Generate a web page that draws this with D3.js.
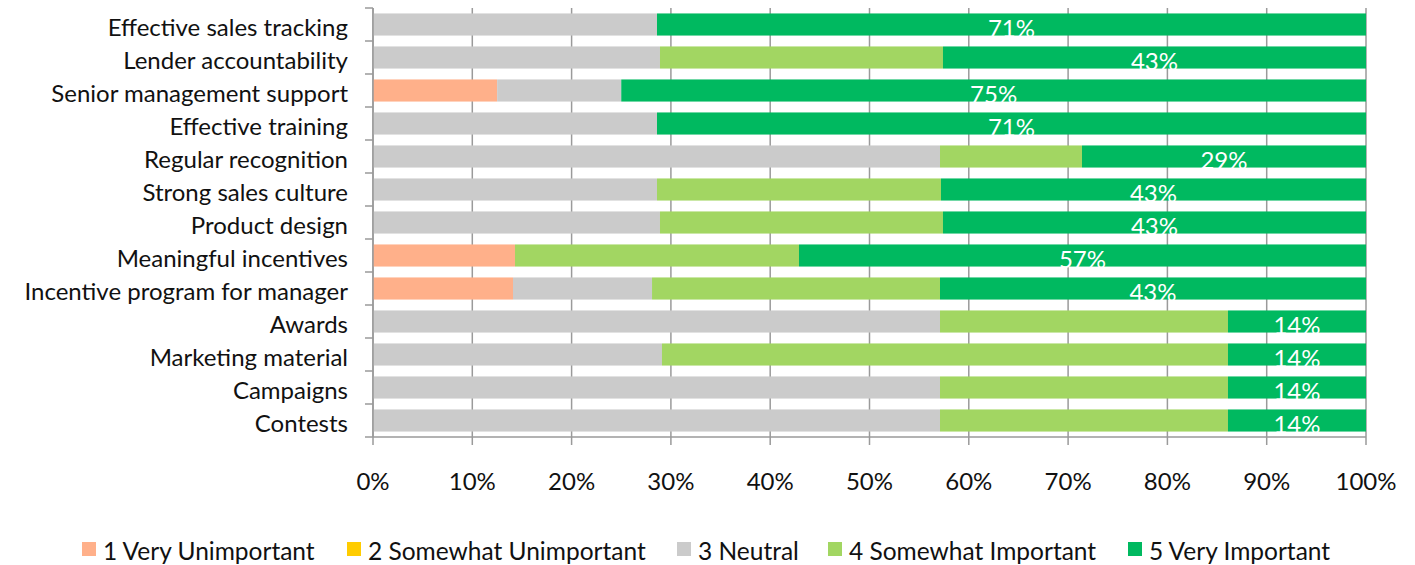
<!DOCTYPE html>
<html>
<head>
<meta charset="utf-8">
<script src="https://cdn.jsdelivr.net/npm/d3@7"></script>
<style>
  html, body { margin: 0; padding: 0; background: #fff; }
  svg { display: block; font-family: Lato, "Open Sans", sans-serif; }
</style>
</head>
<body>
<svg id="chart" width="1415" height="565"></svg>
<script>
// Survey factors, top to bottom
const categories = [
  "Effective sales tracking",
  "Lender accountability",
  "Senior management support",
  "Effective training",
  "Regular recognition",
  "Strong sales culture",
  "Product design",
  "Meaningful incentives",
  "Incentive program for manager",
  "Awards",
  "Marketing material",
  "Campaigns",
  "Contests"
];

// Share of responses (%) per rating, in category order
const veryUnimportant     = [0, 0, 12.5, 0, 0, 0, 0, 14.3, 14.1, 0, 0, 0, 0];
const somewhatUnimportant = [0, 0, 0, 0, 0, 0, 0, 0, 0, 0, 0, 0, 0];
const neutral             = [28.6, 28.9, 12.5, 28.6, 57.1, 28.6, 28.9, 0, 14.0, 57.1, 29.1, 57.1, 57.1];
const somewhatImportant   = [0, 28.5, 0, 0, 14.3, 28.6, 28.5, 28.6, 29.0, 29.0, 57.0, 29.0, 29.0];
const veryImportant       = [71.4, 42.6, 75.0, 71.4, 28.6, 42.8, 42.6, 57.1, 42.9, 13.9, 13.9, 13.9, 13.9];

const seriesNames = ["1 Very Unimportant", "2 Somewhat Unimportant", "3 Neutral", "4 Somewhat Important", "5 Very Important"];
const seriesValues = [veryUnimportant, somewhatUnimportant, neutral, somewhatImportant, veryImportant];
const seriesColors = ["#FFB08A", "#FFCC00", "#CBCBCB", "#A2D662", "#00B960"];

const xTicks = [0, 10, 20, 30, 40, 50, 60, 70, 80, 90, 100];

const svg = d3.select("#chart");
const margin = { left: 373, right: 49, top: 8, bottom: 128 };
const width = 1415 - margin.left - margin.right;
const height = 565 - margin.top - margin.bottom;

const g = svg.append("g").attr("transform", `translate(${margin.left},${margin.top})`);

const x = d3.scaleLinear().domain([0, 100]).range([0, width]);
const y = d3.scaleBand().domain(categories).range([0, height]).paddingInner(0.33).paddingOuter(0.165);

// Build stacked table
const rows = categories.map((c, i) => {
  const r = { category: c };
  seriesNames.forEach((s, k) => { r[s] = seriesValues[k][i]; });
  return r;
});
const stacked = d3.stack().keys(seriesNames)(rows);

// Vertical gridlines
g.append("g")
  .selectAll("line")
  .data(xTicks)
  .join("line")
  .attr("x1", d => x(d)).attr("x2", d => x(d))
  .attr("y1", 0).attr("y2", height)
  .attr("stroke", "#9a9a9a")
  .attr("stroke-width", 1.5);

// Bars
stacked.forEach((layer, k) => {
  g.append("g")
    .attr("fill", seriesColors[k])
    .selectAll("rect")
    .data(layer.filter(d => d[1] - d[0] > 0))
    .join("rect")
    .attr("x", d => x(d[0]))
    .attr("width", d => x(d[1]) - x(d[0]))
    .attr("y", d => y(d.data.category))
    .attr("height", y.bandwidth());
});

// Labels on the "Very Important" segment
const veryLayer = stacked[4];
g.append("g")
  .selectAll("text")
  .data(veryLayer)
  .join("text")
  .attr("x", d => (x(d[0]) + x(d[1])) / 2)
  .attr("y", d => y(d.data.category) + y.bandwidth() / 2 + 12)
  .attr("text-anchor", "middle")
  .attr("fill", "#ffffff")
  .attr("font-size", 24)
  .text(d => Math.round(d[1] - d[0]) + "%");

// Left axis (category)
const yAxisTicks = d3.range(categories.length + 1).map(i => i * height / categories.length);
const yAxisG = g.append("g");
yAxisG.append("line")
  .attr("x1", 0).attr("x2", 0).attr("y1", 0).attr("y2", height)
  .attr("stroke", "#9a9a9a").attr("stroke-width", 1.5);
yAxisG.selectAll("line.tick")
  .data(yAxisTicks)
  .join("line")
  .attr("class", "tick")
  .attr("x1", -8).attr("x2", 0)
  .attr("y1", d => d).attr("y2", d => d)
  .attr("stroke", "#9a9a9a").attr("stroke-width", 1.5);
yAxisG.selectAll("text")
  .data(categories)
  .join("text")
  .attr("x", -25)
  .attr("y", d => y(d) + y.bandwidth() / 2 + 11)
  .attr("text-anchor", "end")
  .attr("fill", "#111")
  .attr("font-size", 24)
  .text(d => d);

// Bottom axis
const xAxisG = g.append("g").attr("transform", `translate(0,${height})`);
xAxisG.append("line")
  .attr("x1", 0).attr("x2", width)
  .attr("stroke", "#9a9a9a").attr("stroke-width", 1.5);
xAxisG.selectAll("line.tick")
  .data(xTicks)
  .join("line")
  .attr("class", "tick")
  .attr("x1", d => x(d)).attr("x2", d => x(d))
  .attr("y1", 0).attr("y2", 8)
  .attr("stroke", "#9a9a9a").attr("stroke-width", 1.5);
xAxisG.selectAll("text")
  .data(xTicks)
  .join("text")
  .attr("x", d => x(d))
  .attr("y", 53)
  .attr("text-anchor", "middle")
  .attr("fill", "#111")
  .attr("font-size", 24)
  .text(d => d + "%");

// Legend
const legendX = [82, 347, 677, 828, 1128];
const legend = svg.append("g");
seriesNames.forEach((s, k) => {
  legend.append("rect")
    .attr("x", legendX[k]).attr("y", 542)
    .attr("width", 14).attr("height", 14)
    .attr("fill", seriesColors[k]);
  legend.append("text")
    .attr("x", legendX[k] + 21).attr("y", 560)
    .attr("fill", "#111")
    .attr("font-size", 24.5)
    .text(s);
});
</script>
</body>
</html>
